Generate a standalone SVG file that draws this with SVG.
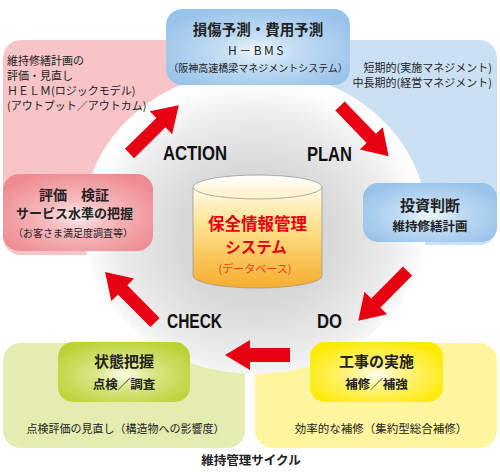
<svg xmlns="http://www.w3.org/2000/svg" width="500" height="474" viewBox="0 0 500 474">
<defs>
<style>
.t{font-family:"Noto Sans CJK JP","Noto Sans",sans-serif;fill:#222;}
.b{font-weight:bold;}
.lbl{font-family:"Liberation Sans",Arial,sans-serif;font-weight:bold;font-size:20px;fill:#111;}
.arr{fill:#e60012;}
</style>
<radialGradient id="gCircle" cx="50%" cy="55%" r="50%">
<stop offset="0" stop-color="#cdcdcd"/>
<stop offset="0.45" stop-color="#d9d9d9"/>
<stop offset="0.8" stop-color="#ececec"/>
<stop offset="1" stop-color="#fefefe"/>
</radialGradient>
<radialGradient id="gBlue" cx="50%" cy="55%" r="60%">
<stop offset="0" stop-color="#eef6fd"/>
<stop offset="0.35" stop-color="#c3ddf4"/>
<stop offset="1" stop-color="#98c3ea"/>
</radialGradient>
<radialGradient id="gPink" cx="50%" cy="55%" r="60%">
<stop offset="0" stop-color="#fdeced"/>
<stop offset="0.35" stop-color="#f6bcc0"/>
<stop offset="1" stop-color="#ee8c92"/>
</radialGradient>
<radialGradient id="gGreen" cx="50%" cy="55%" r="60%">
<stop offset="0" stop-color="#fafce8"/>
<stop offset="0.35" stop-color="#dbe78a"/>
<stop offset="1" stop-color="#bbd234"/>
</radialGradient>
<radialGradient id="gYellow" cx="50%" cy="55%" r="60%">
<stop offset="0" stop-color="#fffdf0"/>
<stop offset="0.35" stop-color="#fff380"/>
<stop offset="1" stop-color="#ffea00"/>
</radialGradient>
<linearGradient id="gCyl" x1="0" y1="0" x2="0" y2="1">
<stop offset="0" stop-color="#fffbe8"/>
<stop offset="0.4" stop-color="#fde08a"/>
<stop offset="1" stop-color="#f7ad2e"/>
</linearGradient>
<linearGradient id="gCylTop" x1="0" y1="0" x2="0" y2="1">
<stop offset="0" stop-color="#ffffff"/>
<stop offset="1" stop-color="#fff1c4"/>
</linearGradient>
</defs>

<rect width="500" height="474" fill="#ffffff"/>

<g id="panels">
<rect x="3" y="40" width="245" height="215" rx="18" fill="#f7c5c8"/>
<rect x="252" y="40" width="245" height="205" rx="18" fill="#cce0f4"/>
<rect x="3" y="343" width="242" height="105" rx="18" fill="#e5ecb0"/>
<rect x="255" y="343" width="242" height="105" rx="18" fill="#fff59e"/>
</g>

<ellipse id="cycle" cx="255" cy="222" rx="172" ry="152" fill="url(#gCircle)"/>

<g id="connectors">
<g transform="translate(129.5,153.5) rotate(-44.4)"><path class="arr" d="M0,-6.5 L44,-6.5 L44,-16 L69,0 L44,16 L44,6.5 L0,6.5 Z"/></g>
<g transform="translate(340,106) rotate(46)"><path class="arr" d="M0,-6.5 L45,-6.5 L45,-16 L70,0 L45,16 L45,6.5 L0,6.5 Z"/></g>
<g transform="translate(407.5,271) rotate(134.7)"><path class="arr" d="M0,-6.5 L45,-6.5 L45,-16 L70,0 L45,16 L45,6.5 L0,6.5 Z"/></g>
<g transform="translate(155,322.5) rotate(225.3)"><path class="arr" d="M0,-6.5 L46,-6.5 L46,-16 L71,0 L46,16 L46,6.5 L0,6.5 Z"/></g>
<g transform="translate(290,355) rotate(180)"><path class="arr" d="M0,-7 L40,-7 L40,-15 L65,0 L40,15 L40,7 L0,7 Z"/></g>
</g>

<g id="labels">
<text class="lbl" x="163" y="160" textLength="64" lengthAdjust="spacingAndGlyphs">ACTION</text>
<text class="lbl" x="307" y="161" textLength="45" lengthAdjust="spacingAndGlyphs">PLAN</text>
<text class="lbl" x="167" y="328" textLength="55" lengthAdjust="spacingAndGlyphs">CHECK</text>
<text class="lbl" x="317" y="328" textLength="25" lengthAdjust="spacingAndGlyphs">DO</text>
</g>

<g id="note-action" class="t" font-size="11">
<text x="7" y="65">維持修繕計画の</text>
<text x="7" y="80">評価・見直し</text>
<text x="7" y="95">ＨＥＬＭ(ロジックモデル)</text>
<text x="7" y="110">(アウトプット／アウトカム)</text>
</g>

<g id="note-plan" class="t" font-size="11" text-anchor="end">
<text x="492" y="72">短期的(実施マネジメント)</text>
<text x="492" y="87">中長期的(経営マネジメント)</text>
</g>

<g id="node-predict">
<rect x="166" y="9" width="184" height="76" rx="16" fill="url(#gBlue)"/>
<text class="t b" x="258" y="35" font-size="14.5" text-anchor="middle">損傷予測・費用予測</text>
<text class="t" x="257" y="55" font-size="12" text-anchor="middle" letter-spacing="2.5">H－BMS</text>
<text class="t" x="258" y="72" font-size="10" text-anchor="middle">（阪神高速橋梁マネジメントシステム）</text>
</g>

<g id="node-invest">
<rect x="363" y="183" width="134" height="59" rx="15" fill="url(#gBlue)"/>
<text class="t b" x="430" y="211" font-size="15" text-anchor="middle">投資判断</text>
<text class="t b" x="430" y="231" font-size="12.5" text-anchor="middle">維持修繕計画</text>
</g>

<g id="node-evaluate">
<rect x="3" y="174" width="150" height="77" rx="16" fill="url(#gPink)"/>
<text class="t b" x="74" y="200" font-size="14" text-anchor="middle">評価　検証</text>
<text class="t b" x="74.5" y="218" font-size="13" text-anchor="middle">サービス水準の把握</text>
<text class="t" x="73" y="237" font-size="10" text-anchor="middle">（お客さま満足度調査等）</text>
</g>

<g id="node-inspect">
<rect x="58" y="342" width="132" height="60" rx="15" fill="url(#gGreen)"/>
<text class="t b" x="124" y="367" font-size="15" text-anchor="middle">状態把握</text>
<text class="t b" x="124" y="389" font-size="12.5" text-anchor="middle">点検／調査</text>
</g>

<g id="node-work">
<rect x="310" y="342" width="133" height="60" rx="15" fill="url(#gYellow)"/>
<text class="t b" x="376.5" y="367" font-size="15" text-anchor="middle">工事の実施</text>
<text class="t b" x="376.5" y="389" font-size="12.5" text-anchor="middle">補修／補強</text>
</g>

<g id="note-check" class="t" font-size="11">
<text x="125.5" y="433" text-anchor="middle">点検評価の見直し（構造物への影響度）</text>
</g>
<g id="note-do" class="t" font-size="11.5">
<text x="381" y="433" text-anchor="middle">効率的な補修（集約型総合補修）</text>
</g>

<g id="node-database">
<path d="M193,187 L193,276 A64.5,12 0 0 0 322,276 L322,187 Z" fill="url(#gCyl)" stroke="#9a9a9a" stroke-width="0.8"/>
<ellipse cx="257.5" cy="187" rx="64.5" ry="12" fill="url(#gCylTop)" stroke="#9a9a9a" stroke-width="0.8"/>
<text class="t b" x="257.5" y="230" font-size="16.5" text-anchor="middle" style="fill:#e60012">保全情報管理</text>
<text class="t b" x="256" y="253" font-size="15.5" text-anchor="middle" style="fill:#e60012">システム</text>
<text class="t" x="255" y="273" font-size="11" text-anchor="middle" style="fill:#e8401a">(データベース)</text>
</g>

<text id="caption" class="t b" x="251" y="465" font-size="12.5" text-anchor="middle">維持管理サイクル</text>
</svg>
